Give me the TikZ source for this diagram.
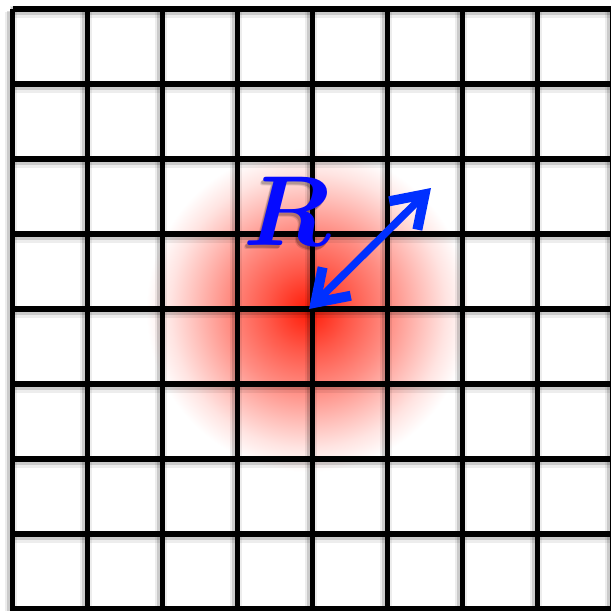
\documentclass[tikz,border=0pt]{standalone}
\usepackage{bm}
\usetikzlibrary{arrows.meta}
\definecolor{glowred}{RGB}{255,28,8}
\definecolor{arrowblue}{RGB}{0,48,255}
\definecolor{labelblue}{RGB}{5,10,255}
\pgfdeclareradialshading{glow}{\pgfpoint{0bp}{0bp}}{%
  color(0bp)=(glowred);
  color(2.5bp)=(glowred!90!white);
  color(6.25bp)=(glowred!74!white);
  color(12.5bp)=(glowred!50!white);
  color(17.5bp)=(glowred!28!white);
  color(21.25bp)=(glowred!12!white);
  color(25bp)=(white);
  color(50bp)=(white)}
\tikzset{
  gridline/.style={line width=5.5pt, black},
  gridshadowA/.style={line width=12pt, black, opacity=0.07},
  gridshadowB/.style={line width=8.5pt, black, opacity=0.14},
  barb/.tip={Straight Barb[length=30pt, width=40pt, line width=10pt]},
  bluearrow/.style={arrowblue, line width=7.5pt, barb-barb},
  rlabel/.style={scale=4, font=\Huge, inner sep=0pt},
}
\begin{document}
\begin{tikzpicture}[x=1pt, y=-1pt]
\useasboundingbox (0,0) rectangle (611,611);
\clip (0,0) rectangle (611,611);
\fill[white] (0,0) rectangle (611,611);
\shade[shading=glow] (308,310) circle (162);
\foreach \k in {0,...,8} {
  \draw[gridshadowA] ({12.5+75*\k-2},12) -- ({12.5+75*\k-2},620);
  \draw[gridshadowA] (10,{9+75*\k+3}) -- (620,{9+75*\k+3});
  \draw[gridshadowB] ({12.5+75*\k-1.5},11) -- ({12.5+75*\k-1.5},620);
  \draw[gridshadowB] (11,{9+75*\k+2}) -- (620,{9+75*\k+2});
}
\foreach \k in {0,...,8} {
  \draw[gridline] ({12.5+75*\k},9) -- ({12.5+75*\k},620);
  \draw[gridline] (12.5,{9+75*\k}) -- (620,{9+75*\k});
}
\coordinate (c) at (309,309);
\coordinate (e) at (431,188);
\draw[bluearrow] (c) -- (e);
\node[rlabel, text=black, text opacity=0.12] (Rs2) at (284,215) {$\bm{R}$};
\node[rlabel, text=black, text opacity=0.2] (Rs) at (285,214) {$\bm{R}$};
\node[rlabel, text=labelblue] (R) at (287,211) {$\bm{R}$};
\end{tikzpicture}
\end{document}
